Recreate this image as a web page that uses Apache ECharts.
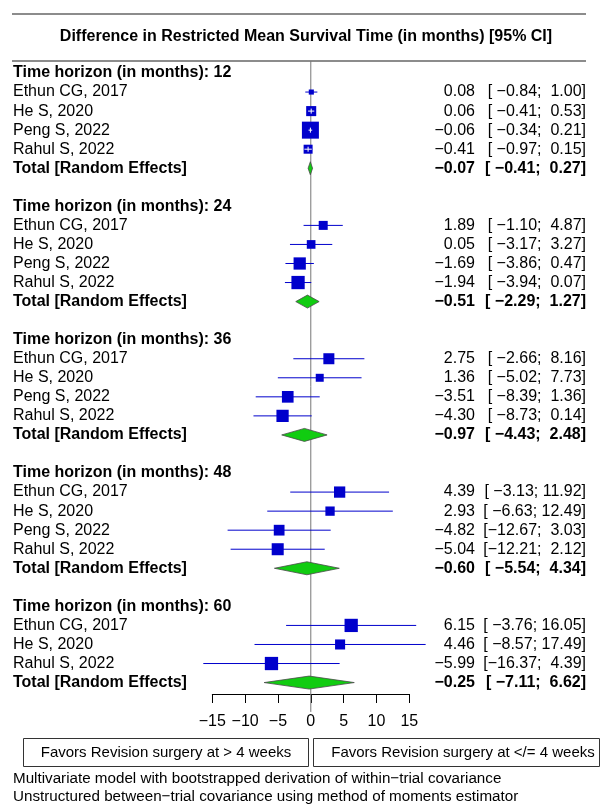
<!DOCTYPE html>
<html>
<head>
<meta charset="utf-8">
<title>RMST forest plot</title>
<script src="https://cdn.jsdelivr.net/npm/echarts@6.0.0/dist/echarts.min.js"></script>
<style>
  html, body { margin: 0; padding: 0; background: #fff; }
  #main { width: 612px; height: 805px; }
</style>
</head>
<body>
<div id="main"></div>
<script>
  // 数据
  var horizons = [12, 24, 36, 48, 60];
  var studies = [
    ['Ethun CG, 2017', 'He S, 2020', 'Peng S, 2022', 'Rahul S, 2022'],
    ['Ethun CG, 2017', 'He S, 2020', 'Peng S, 2022', 'Rahul S, 2022'],
    ['Ethun CG, 2017', 'He S, 2020', 'Peng S, 2022', 'Rahul S, 2022'],
    ['Ethun CG, 2017', 'He S, 2020', 'Peng S, 2022', 'Rahul S, 2022'],
    ['Ethun CG, 2017', 'He S, 2020', 'Rahul S, 2022']
  ];
  var est = [
    [0.08, 0.06, -0.06, -0.41],
    [1.89, 0.05, -1.69, -1.94],
    [2.75, 1.36, -3.51, -4.30],
    [4.39, 2.93, -4.82, -5.04],
    [6.15, 4.46, -5.99]
  ];
  var lower = [
    [-0.84, -0.41, -0.34, -0.97],
    [-1.10, -3.17, -3.86, -3.94],
    [-2.66, -5.02, -8.39, -8.73],
    [-3.13, -6.63, -12.67, -12.21],
    [-3.76, -8.57, -16.37]
  ];
  var upper = [
    [1.00, 0.53, 0.21, 0.15],
    [4.87, 3.27, 0.47, 0.07],
    [8.16, 7.73, 1.36, 0.14],
    [11.92, 12.49, 3.03, 2.12],
    [16.05, 17.49, 4.39]
  ];
  // 相对权重 (方块面积)
  var weights = [
    [9, 35, 100, 28],
    [28, 26, 52, 61],
    [42, 22, 47, 52],
    [44, 30, 40, 50],
    [61, 35, 61]
  ];
  var totalEst = [-0.07, -0.51, -0.97, -0.60, -0.25];
  var totalLower = [-0.41, -2.29, -4.43, -5.54, -7.11];
  var totalUpper = [0.27, 1.27, 2.48, 4.34, 6.62];
  var xTicks = [-15, -10, -5, 0, 5, 10, 15];

  var FONT = "'Liberation Sans', Arial, Helvetica, sans-serif";
  var BLUE = '#0000cc';

  // 数字格式 (R 风格, 空格补齐)
  function fmt(v, width) {
    var s = Math.abs(v).toFixed(2);
    s = v < 0 ? '\u2212' + s : s;
    while (s.length < width) s = ' ' + s;
    return s;
  }
  function ciText(lo, hi) {
    return '[' + fmt(lo, 6) + '; ' + fmt(hi, 5) + ']';
  }

  // 行布局
  var rows = [];
  var studyData = [];
  var totalData = [];
  var r = 0;
  horizons.forEach(function (h, g) {
    rows.push({row: r, label: 'Time horizon (in months): ' + h, bold: true});
    r++;
    studies[g].forEach(function (name, i) {
      rows.push({row: r, label: name, bold: false, e: est[g][i], lo: lower[g][i], hi: upper[g][i]});
      studyData.push([est[g][i], r, lower[g][i], upper[g][i], weights[g][i]]);
      r++;
    });
    rows.push({row: r, label: 'Total [Random Effects]', bold: true, e: totalEst[g], lo: totalLower[g], hi: totalUpper[g]});
    totalData.push([totalEst[g], r, totalLower[g], totalUpper[g]]);
    r += 2;
  });

  // 绘制 方块 + 置信区间
  function renderStudy(params, api) {
    var c = api.coord([api.value(0), api.value(1)]);
    var l = api.coord([api.value(2), api.value(1)]);
    var h = api.coord([api.value(3), api.value(1)]);
    var s = 17 * Math.sqrt(api.value(4) / 100);
    var children = [
      {type: 'line', shape: {x1: l[0], y1: c[1], x2: h[0], y2: c[1]}, style: {stroke: BLUE, lineWidth: 1}},
      {type: 'rect', shape: {x: c[0] - s / 2, y: c[1] - s / 2, width: s, height: s}, style: {fill: BLUE}}
    ];
    // 置信区间在方块内 -> 白色
    if (l[0] > c[0] - s / 2 && h[0] < c[0] + s / 2) {
      children.push({type: 'line', shape: {x1: l[0], y1: c[1], x2: h[0], y2: c[1]}, style: {stroke: '#fff', lineWidth: 1}});
      children.push({type: 'line', shape: {x1: c[0], y1: c[1] - 2.5, x2: c[0], y2: c[1] + 2.5}, style: {stroke: '#fff', lineWidth: 1}});
    }
    return {type: 'group', children: children};
  }

  // 绘制 菱形
  function renderTotal(params, api) {
    var c = api.coord([api.value(0), api.value(1)]);
    var l = api.coord([api.value(2), api.value(1)]);
    var h = api.coord([api.value(3), api.value(1)]);
    var hh = 6.5;
    return {
      type: 'polygon',
      shape: {points: [[l[0], c[1]], [c[0], c[1] - hh], [h[0], c[1]], [c[0], c[1] + hh]]},
      style: {fill: '#11cc11', stroke: '#4a4a4a', lineWidth: 0.8}
    };
  }

  // 文字列
  function renderText(params, api) {
    var it = rows[params.dataIndex];
    var y = api.coord([0, it.row])[1];
    var font = (it.bold ? 'bold' : 'normal') + ' 16px ' + FONT;
    function txt(x, s, align) {
      return {type: 'text', x: x, y: y, style: {text: s, font: font, fill: '#000', textAlign: align, textVerticalAlign: 'middle'}};
    }
    var children = [txt(13, it.label, 'left')];
    if (it.e !== undefined) {
      children.push(txt(475, fmt(it.e, 5), 'right'));
      children.push(txt(586, ciText(it.lo, it.hi), 'right'));
    }
    return {type: 'group', children: children};
  }

  var myChart = echarts.init(document.getElementById('main'));
  var option = {
    backgroundColor: '#fff',
    animation: false,
    textStyle: {fontFamily: FONT},
    grid: {left: 212.3, right: 202.7, top: 73, bottom: 111},
    xAxis: {
      type: 'value',
      position: 'bottom',
      min: xTicks[0],
      max: xTicks[xTicks.length - 1],
      interval: 5,
      axisLine: {show: true, onZero: false, lineStyle: {color: '#000', width: 1}},
      axisTick: {show: true, inside: false, length: 9, lineStyle: {color: '#000', width: 1}},
      axisLabel: {
        fontSize: 16, color: '#000', margin: 20, fontFamily: FONT,
        formatter: function (v) { return v < 0 ? '\u2212' + Math.abs(v) : String(v); }
      },
      splitLine: {show: false}
    },
    yAxis: {type: 'value', min: 0, max: 32.6, inverse: true, show: false},
    graphic: [
      {type: 'line', shape: {x1: 12, y1: 14, x2: 586, y2: 14}, style: {stroke: '#666', lineWidth: 1.5}},
      {type: 'line', shape: {x1: 12, y1: 61, x2: 586, y2: 61}, style: {stroke: '#666', lineWidth: 1.5}},
      {type: 'text', x: 306, y: 37, style: {text: 'Difference in Restricted Mean Survival Time (in months) [95% CI]', font: 'bold 16px ' + FONT, fill: '#000', textAlign: 'center', textVerticalAlign: 'middle'}},
      {type: 'rect', shape: {x: 23.5, y: 738.5, width: 285, height: 28}, style: {fill: 'none', stroke: '#333', lineWidth: 1}},
      {type: 'rect', shape: {x: 313.5, y: 738.5, width: 286, height: 28}, style: {fill: 'none', stroke: '#333', lineWidth: 1}},
      {type: 'text', x: 166, y: 753, style: {text: 'Favors Revision surgery at > 4 weeks', font: '15px ' + FONT, fill: '#000', textAlign: 'center', textVerticalAlign: 'middle'}},
      {type: 'text', x: 463, y: 753, style: {text: 'Favors Revision surgery at </= 4 weeks', font: '15px ' + FONT, fill: '#000', textAlign: 'center', textVerticalAlign: 'middle'}},
      {type: 'text', x: 13, y: 779, style: {text: 'Multivariate model with bootstrapped derivation of within\u2212trial covariance', font: '15.2px ' + FONT, fill: '#000', textAlign: 'left', textVerticalAlign: 'middle'}},
      {type: 'text', x: 13, y: 797, style: {text: 'Unstructured between\u2212trial covariance using method of moments estimator', font: '15.2px ' + FONT, fill: '#000', textAlign: 'left', textVerticalAlign: 'middle'}}
    ],
    series: [
      {
        // 参考线 x = 0
        type: 'line',
        data: [[0, -0.63], [0, 33.54]],
        symbol: 'none',
        clip: false,
        lineStyle: {color: '#777', width: 1},
        z: 1
      },
      {type: 'custom', renderItem: renderStudy, data: studyData, clip: false, z: 3},
      {type: 'custom', renderItem: renderTotal, data: totalData, clip: false, z: 3},
      {type: 'custom', renderItem: renderText, data: rows.map(function (it) { return [0, it.row]; }), clip: false, z: 4}
    ]
  };
  myChart.setOption(option, true);
</script>
</body>
</html>
